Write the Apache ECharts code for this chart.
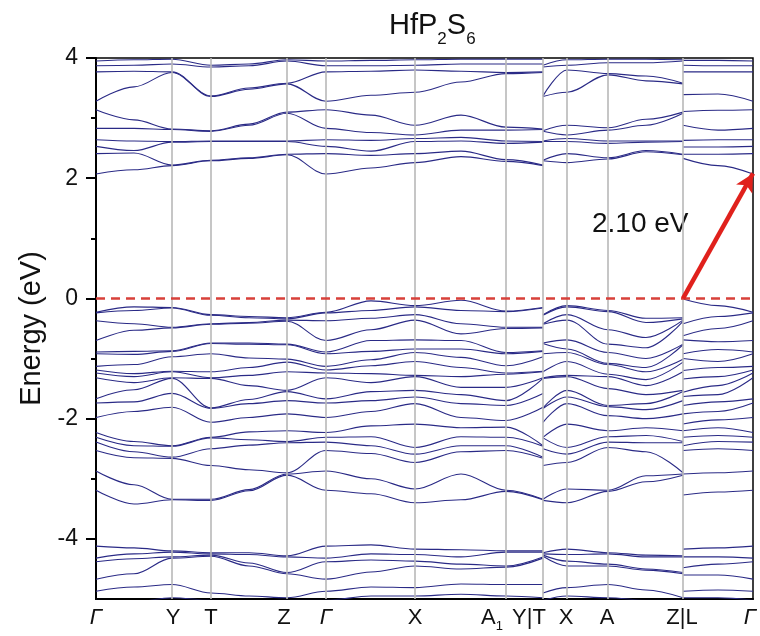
<!DOCTYPE html>
<html><head><meta charset="utf-8">
<script src="https://cdn.jsdelivr.net/npm/echarts@6/dist/echarts.min.js"></script>
<style>html,body{margin:0;padding:0;background:#fff}#c{width:760px;height:636px}</style>
</head><body><div id="c"></div>
<script>
// ---- tick labels / high-symmetry points ----
const tickLabels = ['Γ','Y','T','Z','Γ','X','A1','Y|T','X','A','Z|L','Γ'];
const tickLabelK = [0, 77, 115, 188, 230, 319, 396, 433, 470, 511, 586, 654];
const symLinesK = [76, 115, 191, 230, 319, 410, 447, 471, 512, 587];
const yMajor = [-4, -2, 0, 2, 4];
const yMinor = [-3, -1, 1, 3];
// path segments (k positions)
const segK1 = [0, 38, 76, 115, 153, 191, 230, 275, 319, 365, 410, 447];
const segK2 = [447, 471, 512, 550, 587];
const segK3 = [587, 622, 657];
// ---- energy levels (eV) at each k column: 10 conduction, 19 upper valence, 6 lower valence ----
const colG = [2.07,2.41,2.53,2.64,2.83,3.14,3.28,3.77,3.87,3.95,
  -0.23,-0.24,-0.37,-0.70,-0.89,-0.92,-1.13,-1.19,-1.24,-1.32,-1.67,-1.74,-1.98,-2.23,-2.31,-2.39,-2.53,-2.87,-3.19,
  -4.12,-4.32,-4.38,-4.67,-4.87,-5.02];
const col38 = [2.14,2.42,2.46,2.62,2.83,2.97,3.52,3.78,3.88,3.97,
  -0.14,-0.20,-0.42,-0.53,-0.88,-0.93,-1.10,-1.25,-1.30,-1.40,-1.52,-1.72,-1.88,-2.38,-2.45,-2.55,-2.65,-3.10,-3.42,
  -4.15,-4.25,-4.33,-4.58,-4.80,-5.05];
const colY = [2.21,2.22,2.60,2.61,2.81,2.82,3.76,3.77,3.90,3.98,
  -0.15,-0.16,-0.48,-0.49,-0.87,-0.88,-0.97,-1.21,-1.22,-1.32,-1.33,-1.58,-1.81,-2.45,-2.46,-2.64,-2.66,-3.34,-3.35,
  -4.20,-4.22,-4.30,-4.32,-4.76,-4.98];
const colT = [2.29,2.30,2.61,2.62,2.78,2.79,3.36,3.37,3.85,3.88,
  -0.27,-0.28,-0.42,-0.43,-0.74,-0.75,-0.92,-1.22,-1.32,-1.33,-1.82,-1.83,-2.06,-2.31,-2.32,-2.50,-2.78,-3.34,-3.36,
  -4.23,-4.25,-4.27,-4.29,-4.90,-5.02];
const col153 = [2.33,2.34,2.61,2.62,2.88,2.90,3.48,3.50,3.87,3.90,
  -0.30,-0.32,-0.40,-0.41,-0.74,-0.76,-0.99,-1.15,-1.28,-1.45,-1.68,-1.75,-1.98,-2.22,-2.35,-2.44,-2.85,-3.18,-3.20,
  -4.23,-4.26,-4.40,-4.45,-4.95,-5.05];
const colZ = [2.39,2.40,2.61,2.62,3.08,3.10,3.57,3.58,3.95,3.97,
  -0.32,-0.34,-0.36,-0.38,-0.76,-0.77,-1.01,-1.06,-1.22,-1.53,-1.55,-1.70,-1.92,-2.20,-2.38,-2.40,-2.90,-2.92,-2.94,
  -4.28,-4.30,-4.56,-4.58,-4.98,-5.02];
const col275 = [2.17,2.38,2.45,2.63,2.76,3.05,3.38,3.78,3.87,3.96,
  -0.04,-0.20,-0.33,-0.52,-0.70,-0.88,-1.02,-1.12,-1.25,-1.40,-1.55,-1.70,-1.88,-2.12,-2.30,-2.45,-2.58,-3.00,-3.25,
  -4.10,-4.25,-4.35,-4.55,-4.80,-4.95];
const colX = [2.26,2.41,2.61,2.66,2.72,2.88,3.43,3.80,3.88,3.97,
  -0.12,-0.14,-0.27,-0.36,-0.69,-0.84,-0.90,-1.05,-1.28,-1.30,-1.53,-1.64,-1.75,-2.09,-2.48,-2.59,-2.73,-3.17,-3.40,
  -4.17,-4.26,-4.37,-4.45,-4.81,-4.95];
const col365 = [2.36,2.45,2.62,2.68,2.80,3.05,3.60,3.78,3.90,3.98,
  -0.03,-0.20,-0.42,-0.59,-0.70,-0.84,-0.98,-1.15,-1.30,-1.48,-1.60,-1.75,-1.98,-2.15,-2.30,-2.45,-2.55,-2.92,-3.35,
  -4.18,-4.30,-4.42,-4.50,-4.75,-4.92];
const colA1 = [2.28,2.31,2.58,2.62,2.80,2.85,3.74,3.76,3.90,3.98,
  -0.21,-0.22,-0.48,-0.50,-0.90,-0.92,-1.12,-1.24,-1.26,-1.48,-1.70,-1.78,-2.03,-2.14,-2.31,-2.45,-2.53,-3.19,-3.21,
  -4.20,-4.22,-4.45,-4.47,-4.76,-4.95];
const colA = [2.32,2.34,2.58,2.62,2.80,2.84,3.72,3.74,3.92,3.98,
  -0.20,-0.22,-0.52,-0.76,-0.90,-1.08,-1.10,-1.26,-1.30,-1.50,-1.78,-1.80,-1.95,-2.20,-2.30,-2.39,-2.48,-3.19,-3.21,
  -4.23,-4.25,-4.42,-4.45,-4.76,-4.98];
const col550 = [2.44,2.46,2.60,2.62,2.88,2.98,3.62,3.70,3.92,3.98,
  -0.33,-0.40,-0.65,-0.82,-1.00,-1.15,-1.22,-1.35,-1.45,-1.60,-1.75,-1.85,-2.00,-2.15,-2.28,-2.40,-2.55,-2.95,-3.05,
  -4.27,-4.30,-4.50,-4.52,-4.85,-5.02];
const colL = [2.33,2.40,2.52,2.63,2.88,3.11,3.39,3.77,3.88,3.96,
  -0.01,-0.42,-0.62,-0.69,-0.92,-1.00,-1.20,-1.34,-1.56,-1.63,-1.78,-1.92,-2.09,-2.20,-2.31,-2.45,-2.53,-2.92,-3.27,
  -4.17,-4.30,-4.48,-4.60,-4.87,-4.98];
const col622 = [2.21,2.40,2.52,2.64,2.80,3.13,3.40,3.77,3.87,3.96,
  -0.12,-0.30,-0.50,-0.72,-0.85,-1.05,-1.15,-1.30,-1.45,-1.60,-1.72,-1.88,-2.02,-2.15,-2.28,-2.38,-2.50,-2.90,-3.22,
  -4.15,-4.30,-4.42,-4.60,-4.85,-4.98];
const seg1Cols = [colG, col38, colY, colT, col153, colZ, colG, col275, colX, col365, colA1, colY];
const seg2Cols = [colT, colX, colA, col550, colZ];
const seg3Cols = [colL, col622, colG];
const gapStart = [587, 0];
const gapEnd = [657, 2.08];
const gapText = '2.10 eV';

const FONT = '"Liberation Sans", Arial, Helvetica, sans-serif';
const BAND = '#2a2a86';

const series = [];
// high-symmetry vertical lines
series.push({
  type: 'line', data: [], silent: true, z: 1,
  markLine: { silent: true, symbol: ['none','none'], animation: false,
    label: { show: false },
    lineStyle: { color: '#b8b8b8', width: 1.6, type: 'solid' },
    data: symLinesK.map(k => ({ xAxis: k })) }
});
function addSegment(ks, cols) {
  const nb = cols[0].length;
  for (let i = 0; i < nb; i++) {
    series.push({
      type: 'line', z: 3, silent: true,
      data: ks.map((k, j) => [k, cols[j][i]]),
      showSymbol: false, smooth: 0.35, smoothMonotone: 'x',
      lineStyle: { color: BAND, width: 1.1 },
      clip: true
    });
  }
}
addSegment(segK1, seg1Cols);
addSegment(segK2, seg2Cols);
addSegment(segK3, seg3Cols);
// Fermi level and gap arrow
series.push({
  type: 'line', data: [], silent: true, z: 5,
  markLine: { silent: true, symbol: ['none','none'], animation: false,
    label: { show: false },
    lineStyle: { color: '#d8403a', width: 2.5, type: [9, 6] },
    data: [{ yAxis: 0 }] }
});
series.push({
  type: 'line', data: [], silent: true, z: 6,
  markLine: { silent: true, symbol: ['none','arrow'], symbolSize: [14, 18], animation: false,
    label: { show: false },
    lineStyle: { color: '#e0211c', width: 4.5, type: 'solid' },
    data: [[{ coord: gapStart }, { coord: gapEnd }]] }
});

function fmtX(v) {
  const i = tickLabelK.indexOf(v);
  if (i < 0) return '';
  const s = tickLabels[i];
  if (s === 'Γ') return '{g|Γ}';
  if (s === 'A1') return '{n|A}{s|1}';
  return '{n|' + s + '}';
}

const chart = echarts.init(document.getElementById('c'), null, { renderer: 'canvas' });
chart.setOption({
  animation: false,
  backgroundColor: '#fff',
  textStyle: { fontFamily: FONT },
  title: {
    text: '{a|HfP}{s|2}{a|S}{s|6}', left: 384, top: 4,
    textStyle: { fontWeight: 'normal', rich: {
      a: { fontSize: 29, fontWeight: 'normal', fontFamily: FONT, color: '#111', lineHeight: 34 },
      s: { fontSize: 17, fontWeight: 'normal', fontFamily: FONT, color: '#111', lineHeight: 17, padding: [26, 0, 0, 0] }
    } }
  },
  grid: { left: 96, right: 7, top: 58, bottom: 37, show: true, borderColor: '#000', borderWidth: 1.5, backgroundColor: 'transparent' },
  xAxis: {
    type: 'value', min: 0, max: 657,
    axisLine: { show: true, onZero: false, lineStyle: { color: '#000', width: 2 } },
    axisTick: { show: false },
    splitLine: { show: false },
    axisLabel: {
      customValues: tickLabelK, formatter: fmtX, margin: 6, color: '#111',
      rich: {
        n: { fontSize: 22, fontFamily: FONT, color: '#111', lineHeight: 26 },
        g: { fontSize: 22, fontFamily: FONT, fontStyle: 'italic', color: '#111', lineHeight: 26 },
        s: { fontSize: 13, fontFamily: FONT, color: '#111', lineHeight: 13, padding: [16, 0, 0, 0] }
      }
    }
  },
  yAxis: [{
    type: 'value', min: -5, max: 4,
    name: 'Energy (eV)', nameLocation: 'middle', nameRotate: 90, nameGap: 50,
    nameTextStyle: { fontSize: 29, fontFamily: FONT, color: '#111' },
    axisLine: { show: true, onZero: false, lineStyle: { color: '#000', width: 2 } },
    axisTick: { show: true, customValues: yMajor, length: 10, lineStyle: { color: '#000', width: 2 } },
    axisLabel: { customValues: yMajor, fontSize: 23, margin: 18, color: '#111', fontFamily: FONT },
    splitLine: { show: false }
  }, {
    type: 'value', min: -5, max: 4, position: 'left',
    axisLine: { show: false, onZero: false },
    axisTick: { show: true, customValues: yMinor, length: 5, lineStyle: { color: '#000', width: 2 } },
    axisLabel: { show: false },
    splitLine: { show: false }
  }],
  graphic: [{
    type: 'text', left: 592, top: 210, silent: true,
    style: { text: gapText, fontSize: 28, fontFamily: FONT, fill: '#111' }
  }],
  series: series
});
</script></body></html>
